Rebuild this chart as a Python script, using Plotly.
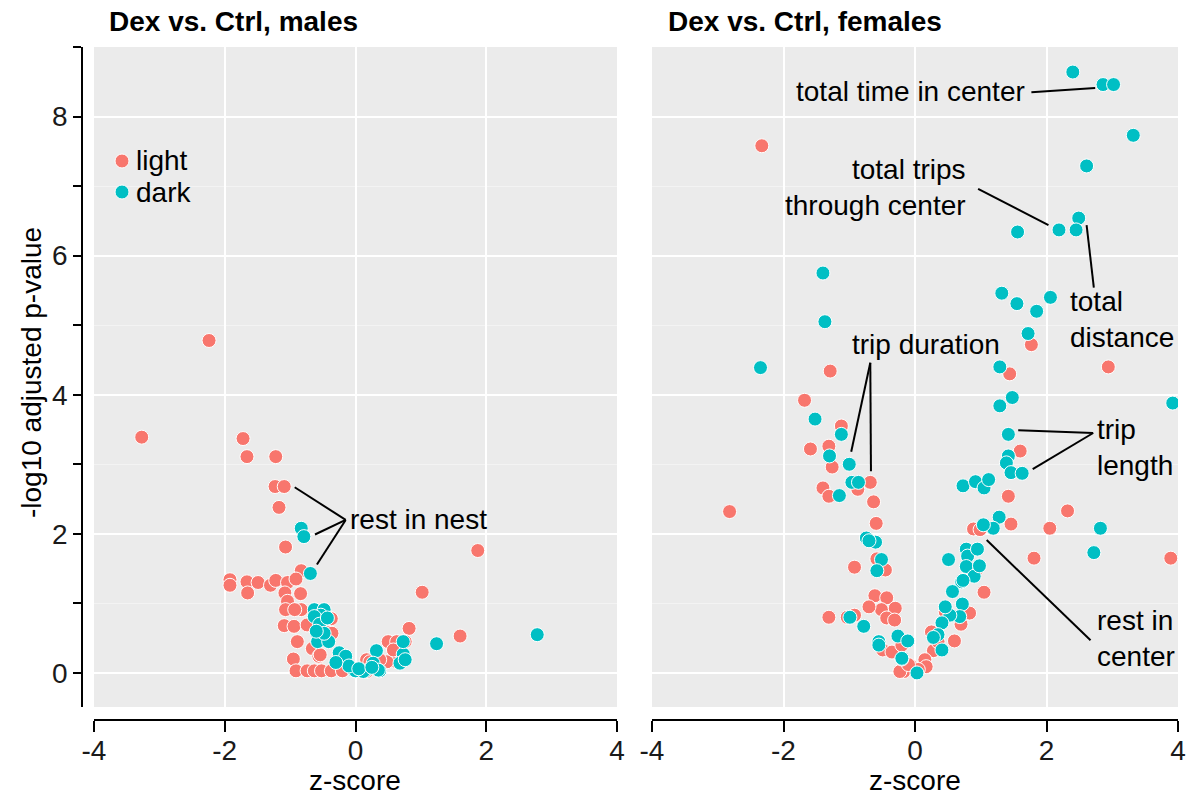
import plotly.graph_objects as go

# ---------------- data ----------------
male_light_x = [-2.24, -3.27, -1.72, -1.66, -1.22, -1.23, -1.09, -1.17, -1.07, -0.83,
                -1.92, -1.92, -1.66, -1.65, -1.49, -1.30, -1.22, -1.04, -0.91, -1.08,
                -0.84, -1.04, -1.07, -0.83, -0.93, -0.37, -1.09, -0.94, -0.74, -0.42,
                -0.89, -0.66, -0.56, -0.25, -0.95, -0.91, -0.74, -0.63, -0.52, -0.37,
                -0.20, 1.87, 1.02, 0.82, 1.60, 0.50, 0.63, 0.76, 0.59, 0.63,
                0.17, 0.48, 0.58, 0.37, 0.22, 0.17, -0.26, -0.54, -0.36]
male_light_y = [4.78, 3.39, 3.37, 3.11, 3.11, 2.68, 2.68, 2.38, 1.81, 1.47,
                1.34, 1.26, 1.31, 1.15, 1.30, 1.26, 1.33, 1.30, 1.35, 1.15,
                1.14, 1.03, 0.91, 0.91, 0.91, 0.78, 0.68, 0.67, 0.69, 0.58,
                0.45, 0.35, 0.24, 0.20, 0.20, 0.03, 0.03, 0.03, 0.03, 0.03,
                0.03, 1.76, 1.16, 0.64, 0.53, 0.45, 0.45, 0.45, 0.32, 0.16,
                0.19, 0.16, 0.33, 0.19, 0.16, 0.02, 0.21, 0.26, 0.57]

male_dark_x = [-0.83, -0.79, -0.69, -0.63, -0.48, -0.53, -0.63, -0.55, -0.43, -0.58,
               -0.41, -0.48, -0.25, -0.15, -0.02, 1.24, 2.78, 0.32, 0.27, 0.37,
               0.73, 0.68, 0.00, 0.15, 0.73, 0.76, 0.35, 0.12, -0.60, -0.10,
               0.05, 0.25, -0.30]
male_dark_y = [2.08, 1.96, 1.43, 0.91, 0.91, 0.83, 0.81, 0.70, 0.79, 0.45,
               0.45, 0.57, 0.29, 0.24, 0.03, 0.42, 0.55, 0.32, 0.14, 0.03,
               0.27, 0.14, 0.03, 0.03, 0.45, 0.19, 0.04, 0.02, 0.60, 0.10,
               0.06, 0.08, 0.15]

female_light_x = [-2.33, 1.77, -1.29, -1.68, -1.12, -1.59, -1.31, -1.26, -1.40, -1.31,
                  -0.87, -0.68, -0.63, -0.59, -2.82, -0.92, -0.58, -0.45, -0.61, -0.43,
                  -0.51, -0.30, -0.43, -0.31, -1.31, -1.03, -0.92, -0.49, -0.05, -0.17,
                  1.60, 1.42, 2.32, 1.46, 2.05, 0.89, 0.99, 1.81, 3.89, 0.94,
                  1.05, 0.83, 0.46, 0.60, 0.25, 0.28, 0.15, 0.17, -0.23, 2.94,
                  1.44, -0.35, 0.05, -0.10, 0.35, 0.70, -0.70, -0.20]
female_light_y = [7.58, 4.72, 4.34, 3.92, 3.55, 3.22, 3.26, 2.96, 2.66, 2.54,
                  2.64, 2.74, 2.46, 2.15, 2.32, 1.52, 1.64, 1.48, 1.11, 1.08,
                  0.91, 0.93, 0.79, 0.76, 0.80, 0.80, 0.83, 0.33, 0.09, 0.02,
                  3.19, 2.54, 2.33, 2.14, 2.08, 2.07, 2.06, 1.65, 1.65, 1.49,
                  1.16, 0.86, 0.88, 0.46, 0.59, 0.32, 0.19, 0.09, 0.02, 4.40,
                  4.30, 0.30, 0.05, 0.12, 0.45, 0.70, 0.95, 0.40]

female_dark_x = [2.40, 2.86, 3.02, 3.32, 2.61, 2.49, 2.19, 2.45, 1.56, 1.32,
                 1.55, 1.85, 2.06, 1.72, -1.40, -1.37, -2.35, -1.52, -1.12, -1.30,
                 -1.00, -1.15, -0.96, -0.86, -0.74, -0.60, -0.70, -0.51, -0.58, -0.99,
                 -0.78, -0.55, -0.26, -0.11, -0.20, 0.03, 1.42, 1.42, 1.39, 1.46,
                 1.63, 0.73, 0.92, 1.05, 1.12, 1.28, 1.19, 2.82, 1.04, 2.72,
                 0.51, 0.78, 0.80, 0.95, 0.78, 0.90, 0.98, 0.71, 0.57, 0.72,
                 0.68, 0.53, 0.41, 0.35, 0.41, 3.92, 1.29, 1.48, 1.29, 0.28,
                 0.46, 0.73, -0.20, -0.55]
female_dark_y = [8.64, 8.46, 8.46, 7.73, 7.29, 6.54, 6.37, 6.37, 6.34, 5.46,
                 5.31, 5.20, 5.40, 4.88, 5.75, 5.05, 4.39, 3.65, 3.43, 3.12,
                 3.00, 2.55, 2.74, 2.74, 1.94, 1.88, 1.90, 1.63, 1.47, 0.80,
                 0.67, 0.45, 0.53, 0.46, 0.20, 0.00, 3.43, 3.12, 3.02, 2.88,
                 2.87, 2.69, 2.75, 2.66, 2.78, 2.24, 2.08, 2.08, 2.13, 1.73,
                 1.63, 1.78, 1.68, 1.78, 1.53, 1.39, 1.54, 1.31, 1.17, 0.99,
                 0.81, 0.83, 0.72, 0.55, 0.33, 3.88, 3.84, 3.96, 4.40, 0.51,
                 0.95, 1.33, 0.21, 0.40]

panel_titles = ["Dex vs. Ctrl, males", "Dex vs. Ctrl, females"]
series_names = ["light", "dark"]
x_ticks = [-4, -2, 0, 2, 4]
y_ticks = [0, 2, 4, 6, 8]
y_minor_ticks = [1, 3, 5, 7, 9]

# ---------------- styling ----------------
C_LIGHT = "#F8766D"
C_DARK = "#00BFC4"
FONT = "Liberation Sans, Arial, sans-serif"
FS = 28
W, H = 1193, 796

def px_x(p):
    return p / W

def px_y(p):
    return (H - p) / H

fig = go.Figure()

marker_common = dict(size=14, line=dict(color="white", width=1))

fig.add_trace(go.Scatter(x=male_light_x, y=male_light_y, mode="markers", xaxis="x", yaxis="y",
                         marker=dict(color=C_LIGHT, **marker_common), showlegend=False, name="light"))
fig.add_trace(go.Scatter(x=male_dark_x, y=male_dark_y, mode="markers", xaxis="x", yaxis="y",
                         marker=dict(color=C_DARK, **marker_common), showlegend=False, name="dark"))
fig.add_trace(go.Scatter(x=female_light_x, y=female_light_y, mode="markers", xaxis="x2", yaxis="y2",
                         marker=dict(color=C_LIGHT, **marker_common), showlegend=False, name="light"))
fig.add_trace(go.Scatter(x=female_dark_x, y=female_dark_y, mode="markers", xaxis="x2", yaxis="y2",
                         marker=dict(color=C_DARK, **marker_common), showlegend=False, name="dark"))

ydom = [px_y(707), px_y(47)]
xaxis_common = dict(range=[-4, 4], tickvals=x_ticks, ticktext=[str(t) for t in x_ticks],
                    showline=True, linecolor="black", linewidth=1.5,
                    ticks="outside", ticklen=11, tickwidth=1.5, tickcolor="black",
                    showgrid=True, gridcolor="white", gridwidth=1.6, zeroline=False,
                    tickfont=dict(family=FONT, size=FS, color="#1a1a1a"),
                    anchor="free", position=px_y(720), automargin=False)
fig.update_layout(
    width=W, height=H,
    margin=dict(l=0, r=0, t=0, b=0, autoexpand=False),
    paper_bgcolor="white", plot_bgcolor="#EBEBEB",
    font=dict(family=FONT, size=FS, color="black"),
    xaxis=dict(domain=[px_x(94), px_x(617)], **xaxis_common),
    xaxis2=dict(domain=[px_x(652), px_x(1178)], **xaxis_common),
    yaxis=dict(domain=ydom, range=[-0.49, 9], tickvals=y_ticks, ticktext=[str(t) for t in y_ticks],
               showline=True, linecolor="black", linewidth=1.5,
               ticks="outside", ticklen=8, tickwidth=1.5, tickcolor="black",
               showgrid=True, gridcolor="white", gridwidth=1.6, zeroline=False,
               tickfont=dict(family=FONT, size=FS, color="#1a1a1a"),
               minor=dict(tickvals=y_minor_ticks, ticks="outside", ticklen=8, tickwidth=1.5,
                          tickcolor="black", showgrid=True, gridcolor="#F3F3F3", gridwidth=0.8),
               anchor="free", position=px_x(82), automargin=False),
    yaxis2=dict(domain=ydom, range=[-0.49, 9], matches="y", anchor="x2",
                tickvals=y_ticks, showticklabels=False, ticks="", showline=False,
                showgrid=True, gridcolor="white", gridwidth=1.6, zeroline=False,
                minor=dict(tickvals=y_minor_ticks, ticks="", showgrid=True,
                           gridcolor="#F3F3F3", gridwidth=0.8), automargin=False),
    showlegend=False,
)
# pull x tick labels slightly closer to the axis line
try:
    fig.update_layout(xaxis_ticklabelstandoff=-5, xaxis2_ticklabelstandoff=-5)
except Exception:
    pass

annotations = []
# panel titles
annotations.append(dict(text="<b>%s</b>" % panel_titles[0], x=px_x(107), y=px_y(22), xref="paper", yref="paper",
                        xanchor="left", yanchor="middle", showarrow=False, font=dict(size=FS, color="black")))
annotations.append(dict(text="<b>%s</b>" % panel_titles[1], x=px_x(666), y=px_y(22), xref="paper", yref="paper",
                        xanchor="left", yanchor="middle", showarrow=False, font=dict(size=FS, color="black")))
# axis titles
for cx in [(94 + 617) / 2, (652 + 1178) / 2]:
    annotations.append(dict(text="z-score", x=px_x(cx), y=px_y(780), xref="paper", yref="paper",
                            xanchor="center", yanchor="middle", showarrow=False, borderpad=0,
                            font=dict(size=FS, color="black")))
annotations.append(dict(text="-log10 adjusted p-value", x=px_x(31), y=px_y(373), xref="paper", yref="paper",
                        xanchor="center", yanchor="middle", textangle=-90, showarrow=False,
                        font=dict(size=FS, color="black")))
# legend
shapes = []
for name, col, py in [(series_names[0], C_LIGHT, 161), (series_names[1], C_DARK, 192)]:
    shapes.append(dict(type="circle", xref="paper", yref="paper", xsizemode="pixel", ysizemode="pixel",
                       xanchor=px_x(122), yanchor=px_y(py), x0=-7, x1=7, y0=-7, y1=7,
                       fillcolor=col, line=dict(color="white", width=1)))
    annotations.append(dict(text=name, x=px_x(134), y=px_y(py), xref="paper", yref="paper",
                            xanchor="left", yanchor="middle", showarrow=False,
                            font=dict(size=FS, color="black")))

# labels (text, panel, x, y, xanchor) and leader segments
labels = [
    ("rest in nest", "x", -0.12, 2.20, "left"),
    ("total time in center", "x2", 1.70, 8.36, "right"),
    ("total trips<br>through center", "x2", 0.81, 6.98, "right"),
    ("total<br>distance", "x2", 2.33, 5.08, "left"),
    ("trip duration", "x2", 0.17, 4.72, "center"),
    ("trip<br>length", "x2", 2.74, 3.24, "left"),
    ("rest in<br>center", "x2", 2.74, 0.49, "left"),
]
for text, xr, lx, ly, xa in labels:
    annotations.append(dict(text=text, x=lx, y=ly, xref=xr, yref="y" if xr == "x" else "y2",
                            xanchor=xa, yanchor="middle", align=xa if xa != "center" else "center",
                            showarrow=False, font=dict(size=FS, color="black")))

segments = [
    ("x", -0.15, 2.20, -0.93, 2.67),
    ("x", -0.15, 2.20, -0.62, 1.99),
    ("x", -0.15, 2.20, -0.59, 1.56),
    ("x2", 1.77, 8.35, 2.74, 8.41),
    ("x2", 0.96, 6.96, 2.03, 6.44),
    ("x2", 2.61, 6.44, 2.72, 5.54),
    ("x2", -0.68, 4.46, -0.97, 3.18),
    ("x2", -0.68, 4.46, -0.67, 2.90),
    ("x2", 2.71, 3.45, 1.57, 3.49),
    ("x2", 2.71, 3.45, 1.79, 2.93),
    ("x2", 2.67, 0.47, 1.09, 1.91),
]
for xr, x0, y0, x1, y1 in segments:
    shapes.append(dict(type="line", xref=xr, yref="y" if xr == "x" else "y2",
                       x0=x0, y0=y0, x1=x1, y1=y1, line=dict(color="black", width=2)))

fig.update_layout(annotations=annotations, shapes=shapes)
fig.write_html("out.html")
